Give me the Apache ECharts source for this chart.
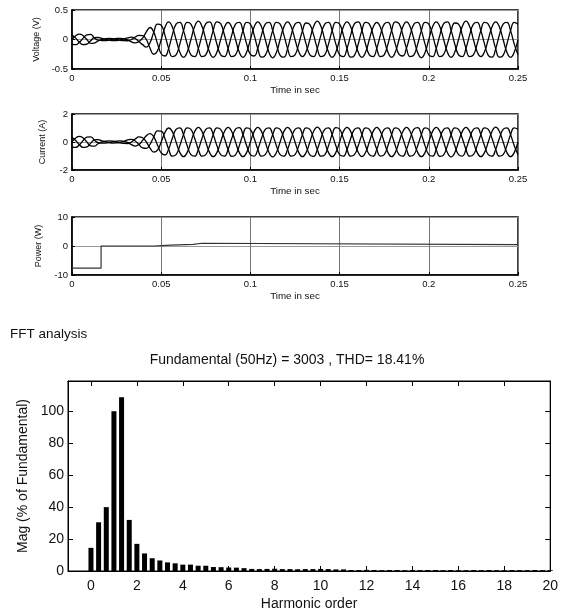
<!DOCTYPE html>
<html><head><meta charset="utf-8">
<script src="https://cdn.jsdelivr.net/npm/echarts@6/dist/echarts.min.js"></script>
<style>html,body{margin:0;padding:0;background:#fff}#c{width:561px;height:612px}</style>
</head><body><div id="c"></div>
<script>
// ---- Data ----
// Sampling step of the waveform arrays (s)
const SAMPLE_STEP = 1 / 480;

const VOLT_A = [0,.064,.09,.064,0,-.064,-.06,-.025,
0,.014,.02,.014,0,-.014,-.02,-.021,
0,.042,.07,.064,0,-.148,-.25,-.191,
0,.205,.3,.212,0,-.212,-.3,-.212,
0,.219,.31,.219,0,-.212,-.3,-.212,
0,.205,.29,.205,0,-.212,-.3,-.212,
0,.212,.3,.212,0,-.219,-.31,-.219,
0,.212,.3,.212,0,-.205,-.29,-.205,
0,.219,.31,.219,0,-.212,-.3,-.212,
0,.212,.3,.212,0,-.212,-.3,-.212,
0,.205,.29,.205,0,-.212,-.3,-.212,
0,.212,.3,.212,0,-.219,-.31,-.219,
0,.212,.3,.212,0,-.212,-.3,-.212,
0,.219,.31,.219,0,-.205,-.29,-.205,
0,.212,.3,.212,0,-.212,-.3,-.212,
0];
const VOLT_B = [-.078,-.087,-.045,.023,.078,.087,.03,-.009,
-.017,-.019,-.01,.005,.017,.019,.01,-.008,
-.039,-.058,-.035,.023,.13,.203,.125,-.07,
-.242,-.28,-.15,.078,.26,.29,.15,-.078,
-.26,-.29,-.15,.078,.268,.3,.155,-.08,
-.26,-.29,-.15,.078,.26,.29,.15,-.078,
-.252,-.28,-.145,.078,.26,.29,.15,-.078,
-.268,-.3,-.155,.08,.26,.29,.15,-.078,
-.26,-.29,-.15,.078,.26,.29,.15,-.078,
-.26,-.29,-.15,.078,.268,.3,.155,-.08,
-.26,-.29,-.15,.078,.26,.29,.15,-.078,
-.252,-.28,-.145,.078,.26,.29,.15,-.078,
-.26,-.29,-.15,.078,.268,.3,.155,-.08,
-.26,-.29,-.15,.078,.26,.29,.15,-.078,
-.268,-.3,-.155,.08,.26,.29,.15,-.078,
-.26];
const VOLT_C = [.078,.023,-.045,-.087,-.078,-.023,.03,.034,
.017,.005,-.01,-.019,-.017,-.005,.01,.029,
.039,.016,-.035,-.087,-.13,-.054,.125,.261,
.242,.075,-.15,-.29,-.26,-.078,.15,.29,
.26,.078,-.15,-.29,-.26,-.078,.155,.3,
.268,.08,-.15,-.29,-.26,-.078,.15,.29,
.26,.078,-.155,-.3,-.268,-.08,.15,.29,
.26,.078,-.15,-.29,-.26,-.078,.145,.28,
.252,.078,-.15,-.29,-.26,-.078,.15,.29,
.26,.078,-.155,-.3,-.268,-.08,.15,.29,
.26,.078,-.15,-.29,-.26,-.078,.155,.3,
.268,.08,-.15,-.29,-.26,-.078,.15,.29,
.26,.078,-.15,-.29,-.252,-.075,.145,.28,
.26,.078,-.15,-.29,-.26,-.078,.15,.29,
.26,.078,-.155,-.3,-.268,-.08,.15,.29,
.26];

const CURR_A = [0,.283,.4,.283,0,-.269,-.3,-.127,
0,.057,.08,.057,0,-.057,-.1,-.106,
0,.212,.36,.304,0,-.438,-.72,-.58,
0,.679,1,.742,0,-.742,-1.05,-.742,
0,.742,1.05,.742,0,-.742,-1.05,-.742,
0,.735,1.04,.735,0,-.742,-1.05,-.742,
0,.742,1.05,.742,0,-.749,-1.06,-.749,
0,.742,1.05,.742,0,-.742,-1.05,-.742,
0,.749,1.06,.749,0,-.742,-1.05,-.742,
0,.742,1.05,.742,0,-.735,-1.04,-.735,
0,.742,1.05,.742,0,-.742,-1.05,-.742,
0,.735,1.04,.735,0,-.742,-1.05,-.742,
0,.742,1.05,.742,0,-.749,-1.06,-.749,
0,.742,1.05,.742,0,-.742,-1.05,-.742,
0,.749,1.06,.749,0,-.742,-1.05,-.742,
0];
const CURR_B = [-.346,-.386,-.2,.104,.346,.367,.15,-.047,
-.087,-.077,-.04,.021,.069,.077,.05,-.039,
-.191,-.29,-.18,.111,.45,.599,.36,-.212,
-.779,-.927,-.5,.272,.909,1.014,.525,-.272,
-.909,-1.014,-.525,.272,.909,1.014,.525,-.272,
-.909,-1.014,-.525,.272,.918,1.024,.53,-.275,
-.9,-1.005,-.52,.27,.909,1.014,.525,-.272,
-.909,-1.014,-.525,.272,.909,1.014,.525,-.272,
-.918,-1.024,-.53,.275,.909,1.014,.525,-.272,
-.909,-1.014,-.525,.272,.9,1.005,.52,-.27,
-.909,-1.014,-.525,.272,.909,1.014,.525,-.272,
-.909,-1.014,-.525,.272,.918,1.024,.53,-.275,
-.909,-1.014,-.525,.272,.909,1.014,.525,-.272,
-.9,-1.005,-.52,.27,.909,1.014,.525,-.272,
-.909,-1.014,-.525,.272,.909,1.014,.525,-.272,
-.909];
const CURR_C = [.346,.104,-.2,-.386,-.346,-.098,.15,.174,
.087,.021,-.04,-.077,-.069,-.021,.05,.145,
.191,.078,-.18,-.415,-.45,-.161,.36,.792,
.779,.249,-.5,-1.014,-.909,-.272,.525,1.014,
.909,.272,-.525,-1.014,-.909,-.272,.525,1.014,
.909,.272,-.53,-1.024,-.918,-.275,.525,1.014,
.909,.272,-.525,-1.014,-.909,-.272,.52,1.005,
.9,.27,-.525,-1.014,-.909,-.272,.525,1.014,
.909,.272,-.525,-1.014,-.918,-.275,.53,1.024,
.918,.275,-.525,-1.014,-.909,-.272,.525,1.014,
.909,.272,-.52,-1.005,-.9,-.27,.525,1.014,
.909,.272,-.525,-1.014,-.909,-.272,.525,1.014,
.909,.272,-.53,-1.024,-.918,-.275,.525,1.014,
.909,.272,-.525,-1.014,-.909,-.272,.525,1.014,
.909,.272,-.525,-1.014,-.909,-.272,.525,1.014,
.909];

const POWER_T = [0, 0.0163, 0.0163, 0.046, 0.046, 0.0553, 0.0553, 0.068, 0.068, 0.0728, 0.0728, 0.25];
const POWER_W = [-7.6, -7.6, 0, 0, 0.3, 0.3, 0.55, 0.55, 0.95, 0.95, 0.45, 0.45];

const HARMONIC_ORDER = [0,0.333,0.667,1,1.333,1.667,2,2.333,2.667,3,3.333,3.667,4,4.333,4.667,5,5.333,5.667,
6,6.333,6.667,7,7.333,7.667,8,8.333,8.667,9,9.333,9.667,10,10.333,10.667,11,11.333,11.667,
12,12.333,12.667,13,13.333,13.667,14,14.333,14.667,15,15.333,15.667,16,16.333,16.667,17,17.333,17.667,
18,18.333,18.667,19,19.333,19.667,20];
const HARMONIC_MAG = [14.5,30.5,40,100,108.9,32,17,11,8,6.6,5.4,4.8,4,4,3.3,3.3,2.5,2.4,
2.2,2.1,1.8,1.3,1.2,1.3,1.4,1.2,1.2,1.1,1.2,1.2,1.3,1.2,1,1,0.6,0.6,
0.7,0.6,0.5,0.6,0.6,0.5,0.6,0.5,0.6,0.6,0.5,0.6,0.5,0.5,0.6,0.5,0.6,0.5,
0.5,0.6,0.5,0.5,0.6,0.5,0.5];

const HARMONIC_TICKS = [0,2,4,6,8,10,12,14,16,18,20];
const MAG_TICKS = [0,20,40,60,80,100];

const TITLE_TEXT = 'Fundamental (50Hz) = 3003 , THD= 18.41%';

// ---- Build chart ----
const FONT = '"Liberation Sans", Arial, sans-serif';
const TIME = VOLT_A.map((_, k) => k * SAMPLE_STEP);
const pairs = (xs, ys) => xs.map((x, i) => [x, ys[i]]);

const tickFont = {fontSize: 9.5, color: '#111', fontFamily: FONT};
const nameFont = {fontSize: 9.8, color: '#111', fontFamily: FONT};
const yNameFont = {fontSize: 9, color: '#111', fontFamily: FONT};
function timeX(gi) {
  return {type: 'value', gridIndex: gi, min: 0, max: 0.25, interval: 0.05,
    name: 'Time in sec', nameLocation: 'middle', nameGap: 16, nameTextStyle: nameFont,
    axisLine: {show: true, onZero: false, lineStyle: {color: '#000', width: 1.5}},
    axisTick: {show: true, inside: true, length: 3, lineStyle: {color: '#000'}},
    axisLabel: Object.assign({margin: 4, formatter: v => String(+v.toFixed(2))}, tickFont),
    splitLine: {show: true, lineStyle: {color: '#777', width: 1}}};
}
function timeY(gi, name, min, max, interval) {
  return {type: 'value', gridIndex: gi, min, max, interval,
    name, nameLocation: 'middle', nameGap: 25, nameTextStyle: yNameFont,
    axisLine: {show: true, onZero: false, lineStyle: {color: '#000', width: 1.5}},
    axisTick: {show: true, inside: true, length: 3, lineStyle: {color: '#000'}},
    axisLabel: Object.assign({margin: 4}, tickFont),
    splitLine: {show: true, lineStyle: {color: '#999', width: 1}}};
}
function wave(xi, data) {
  return {type: 'line', xAxisIndex: xi, yAxisIndex: xi, data, smooth: 0.5, showSymbol: false,
    lineStyle: {color: '#000', width: 1.3}, silent: true, z: 3};
}

const big = {fontSize: 14, color: '#111', fontFamily: FONT};
const option = {
  animation: false,
  backgroundColor: '#fff',
  grid: [
    {left: 72, top: 10, width: 446, height: 59, show: true, borderColor: '#000', borderWidth: 1.5},
    {left: 72, top: 114, width: 446, height: 56, show: true, borderColor: '#000', borderWidth: 1.5},
    {left: 72, top: 217, width: 446, height: 58, show: true, borderColor: '#000', borderWidth: 1.5},
    {left: 68, top: 381, width: 486, height: 191, show: true, borderColor: '#000', borderWidth: 1}
  ],
  xAxis: [
    timeX(0), timeX(1), timeX(2),
    {type: 'value', gridIndex: 3, min: -1, max: 20,
      name: 'Harmonic order', nameLocation: 'middle', nameGap: 26, nameTextStyle: big,
      axisLine: {show: true, onZero: false, lineStyle: {color: '#000'}},
      axisTick: {show: true, inside: true, length: 5, customValues: HARMONIC_TICKS, lineStyle: {color: '#000'}},
      axisLabel: Object.assign({margin: 8, customValues: HARMONIC_TICKS}, big),
      splitLine: {show: false}},
    {type: 'value', gridIndex: 3, position: 'top', min: -1, max: 20,
      axisLine: {show: true, onZero: false, lineStyle: {color: '#000'}},
      axisTick: {show: true, inside: true, length: 5, customValues: HARMONIC_TICKS, lineStyle: {color: '#000'}},
      axisLabel: {show: false}, splitLine: {show: false}}
  ],
  yAxis: [
    timeY(0, 'Voltage (V)', -0.5, 0.5, 0.5),
    timeY(1, 'Current (A)', -2, 2, 2),
    timeY(2, 'Power (W)', -10, 10, 10),
    {type: 'value', gridIndex: 3, min: 0, max: 119,
      name: 'Mag (% of Fundamental)', nameLocation: 'middle', nameGap: 38, nameTextStyle: big,
      axisLine: {show: true, onZero: false, lineStyle: {color: '#000'}},
      axisTick: {show: true, inside: true, length: 5, customValues: MAG_TICKS, lineStyle: {color: '#000'}},
      axisLabel: Object.assign({margin: 4, customValues: MAG_TICKS}, big),
      splitLine: {show: false}},
    {type: 'value', gridIndex: 3, position: 'right', min: 0, max: 119,
      axisLine: {show: true, onZero: false, lineStyle: {color: '#000'}},
      axisTick: {show: true, inside: true, length: 5, customValues: MAG_TICKS, lineStyle: {color: '#000'}},
      axisLabel: {show: false}, splitLine: {show: false}}
  ],
  graphic: [
    {type: 'text', left: 10, top: 327, style: {text: 'FFT analysis', fontSize: 13.5, fill: '#111', fontFamily: FONT}},
    {type: 'text', x: 287, y: 360, style: {text: TITLE_TEXT, fontSize: 14, fill: '#111', fontFamily: FONT, align: 'center', verticalAlign: 'middle'}}
  ],
  series: [
    wave(0, pairs(TIME, VOLT_A)), wave(0, pairs(TIME, VOLT_B)), wave(0, pairs(TIME, VOLT_C)),
    wave(1, pairs(TIME, CURR_A)), wave(1, pairs(TIME, CURR_B)), wave(1, pairs(TIME, CURR_C)),
    {type: 'line', xAxisIndex: 2, yAxisIndex: 2, data: pairs(POWER_T, POWER_W), showSymbol: false,
      lineStyle: {color: '#333', width: 1.2}, silent: true, z: 3},
    {type: 'bar', xAxisIndex: 3, yAxisIndex: 3, data: pairs(HARMONIC_ORDER, HARMONIC_MAG),
      barWidth: 5, itemStyle: {color: '#000'}, silent: true}
  ]
};
const chart = echarts.init(document.getElementById('c'), null, {renderer: 'canvas'});
chart.setOption(option);
</script></body></html>
